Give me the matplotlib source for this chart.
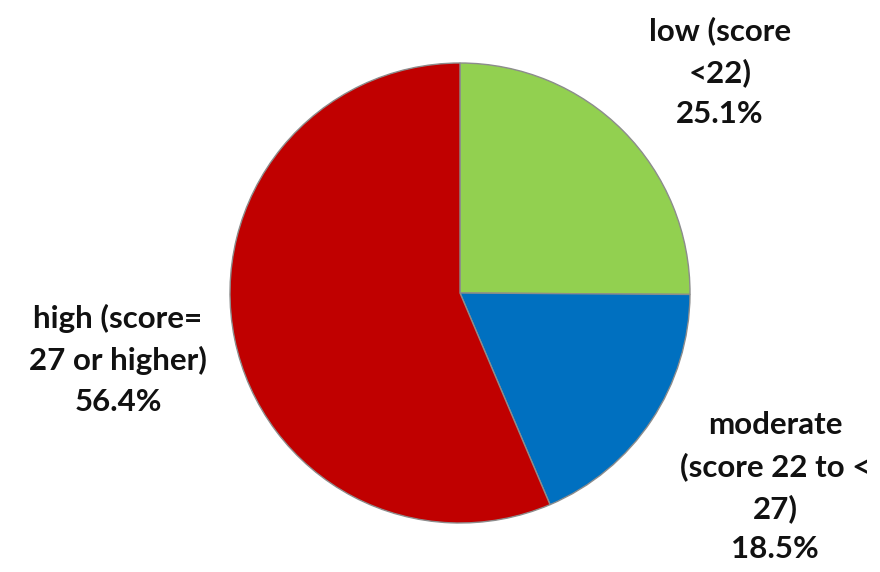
import matplotlib.pyplot as plt

plt.rcParams['font.family'] = ['Lato', 'DejaVu Sans']

# --- Data ---
categories = ['low (score\n<22)', 'moderate\n(score 22 to <\n27)', 'high (score=\n27 or higher)']
shares = [25.1, 18.5, 56.4]
colors = ['#92D050', '#0070C0', '#C00000']

# label anchor points (pixel coords, y measured from bottom)
label_pos = [(720, 500), (775, 85), (118, 212)]

fig = plt.figure(figsize=(8.8, 5.72), dpi=100)
ax = fig.add_axes([0, 0, 1, 1])

ax.pie(shares, colors=colors, startangle=90, counterclock=False,
       center=(460, 279), radius=230, frame=True,
       wedgeprops=dict(edgecolor='#8c8c8c', linewidth=1))
ax.set_xlim(0, 880)
ax.set_ylim(0, 572)
ax.set_aspect('equal')
ax.axis('off')

for cat, val, (x, y) in zip(categories, shares, label_pos):
    ax.text(x, y, f'{cat}\n{val:.1f}%', ha='center', va='center',
            fontsize=22.5, fontweight='bold', color='#111111', linespacing=1.55)

fig.savefig('out.png', dpi=100)
